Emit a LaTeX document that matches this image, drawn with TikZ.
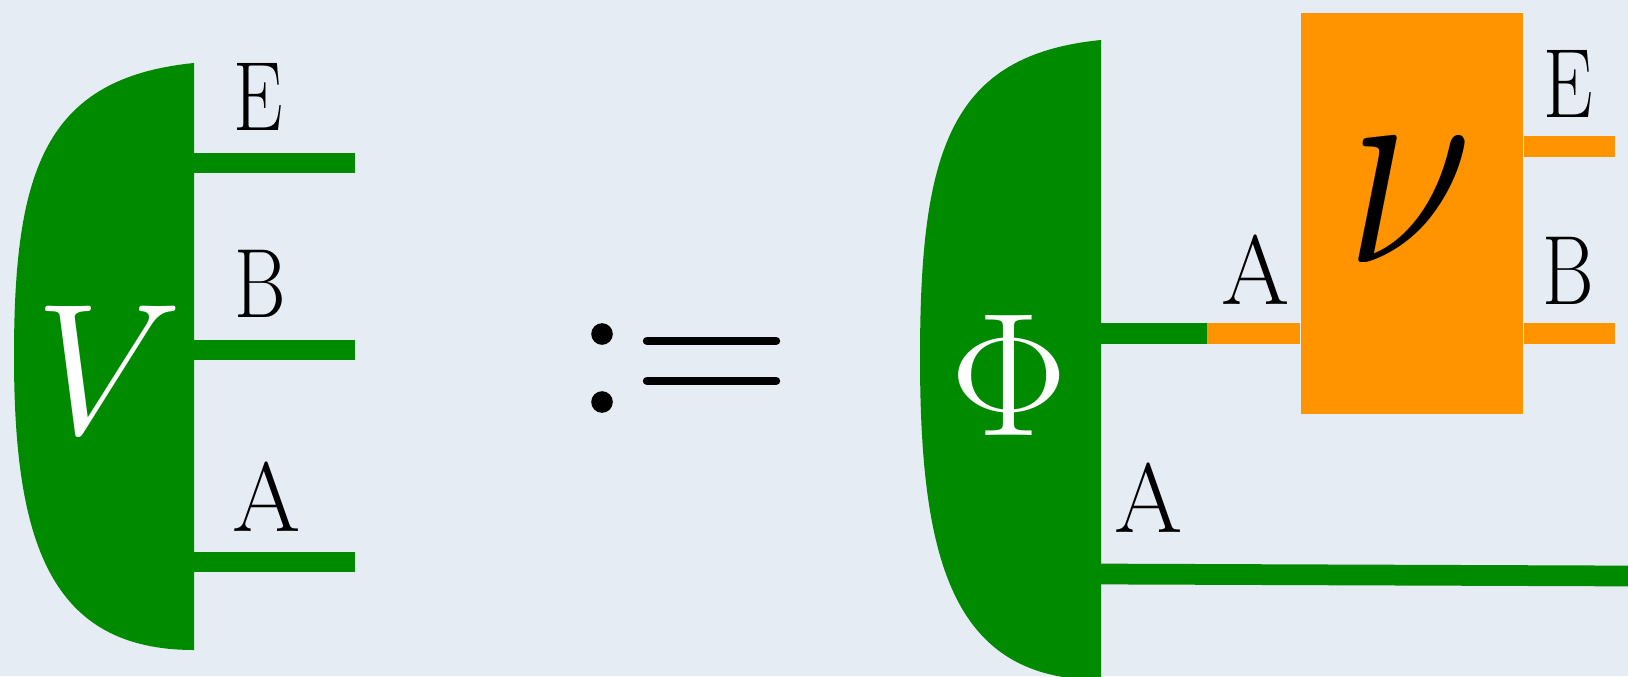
\RequirePackage{fix-cm}
\documentclass[tikz,border=0pt]{standalone}
\usepackage{graphicx}
\definecolor{bg}{RGB}{229,236,243}
\definecolor{dgreen}{RGB}{0,138,0}
\definecolor{orng}{RGB}{255,147,0}
\newcommand\narrowtxt[2]{\scalebox{#1}[1]{#2}}
\begin{document}
\begin{tikzpicture}[x=0.01cm,y=-0.01cm,
  lab/.style={font=\fontsize{28}{30}\selectfont, inner sep=0pt, anchor=base, text=black},
  gwire/.style={draw=dgreen, line width=5.9pt},
  owire/.style={draw=orng, line width=5.9pt},
  blob/.style={fill=dgreen},
  dot/.style={circle, fill=black, inner sep=0pt, minimum size=0.216cm},
  bar/.style={draw=black, line width=2.4pt, line cap=round},
  obox/.style={fill=orng, inner sep=0pt, minimum width=2.22cm, minimum height=4.004cm}
  ]
\useasboundingbox (0,0) rectangle (1628,676);
\fill[bg] (0,0) rectangle (1628,676);
\clip (0,0) rectangle (1628,676);

% ---- left: V ----
\fill[blob] (194,63) .. controls (45,78) and (14,170) .. (14,356)
  .. controls (14,542) and (50,650) .. (194,650) -- cycle;
\coordinate (VE) at (190,163); \coordinate (VEo) at (355,163);
\coordinate (VB) at (190,350); \coordinate (VBo) at (355,350);
\coordinate (VA) at (190,562); \coordinate (VAo) at (355,562);
\draw[gwire] (VE) -- (VEo);
\draw[gwire] (VB) -- (VBo);
\draw[gwire] (VA) -- (VAo);
\node[font=\fontsize{53}{60}\selectfont, text=white, inner sep=0pt, anchor=base] (Vl) at (109,433) {$V$};
\node[lab] (lE1) at (258.5,131) {\narrowtxt{0.8}{E}};
\node[lab] (lB1) at (260,317) {\narrowtxt{0.8}{B}};
\node[lab] (lA1) at (267,531) {A};

% ---- := ----
\node[dot] (c1) at (602,334) {};
\node[dot] (c2) at (602,402) {};
\coordinate (e1a) at (647,341); \coordinate (e1b) at (776,341);
\coordinate (e2a) at (647,381); \coordinate (e2b) at (776,381);
\draw[bar] (e1a) -- (e1b);
\draw[bar] (e2a) -- (e2b);

% ---- right: Phi ----
\fill[blob] (1101,40) .. controls (950,55) and (920,150) .. (920,358)
  .. controls (920,566) and (955,680) .. (1101,680) -- cycle;
\node[font=\fontsize{50}{56}\selectfont, text=white, inner sep=0pt, anchor=base] (Phi) at (1009,435) {$\Phi$};

\node[obox] (box) at (1412,213.5) {};
\node[font=\fontsize{82}{90}\selectfont, inner sep=0pt, anchor=base] (nu) at (1410,262) {\narrowtxt{0.8}{$\nu$}};

\coordinate (PA1) at (1097,333.5);
\coordinate (J) at (1207,333.5);
\draw[gwire] (PA1) -- (J);
\draw[owire] (J) -- (J -| box.west);
\coordinate (Eout) at (1615,146.7);
\coordinate (Bout) at (1615,333.5);
\draw[owire] (Eout -| box.east) -- (Eout);
\draw[owire] (Bout -| box.east) -- (Bout);
\coordinate (PA2) at (1097,574);
\coordinate (Aout) at (1630,576);
\draw[gwire] (PA2) -- (Aout);

\node[lab] (lA2) at (1256,304.5) {A};
\node[lab] (lA3) at (1149,532) {A};
\node[lab] (lE2) at (1568,118) {\narrowtxt{0.8}{E}};
\node[lab] (lB2) at (1568,304.5) {\narrowtxt{0.8}{B}};
\end{tikzpicture}
\end{document}
